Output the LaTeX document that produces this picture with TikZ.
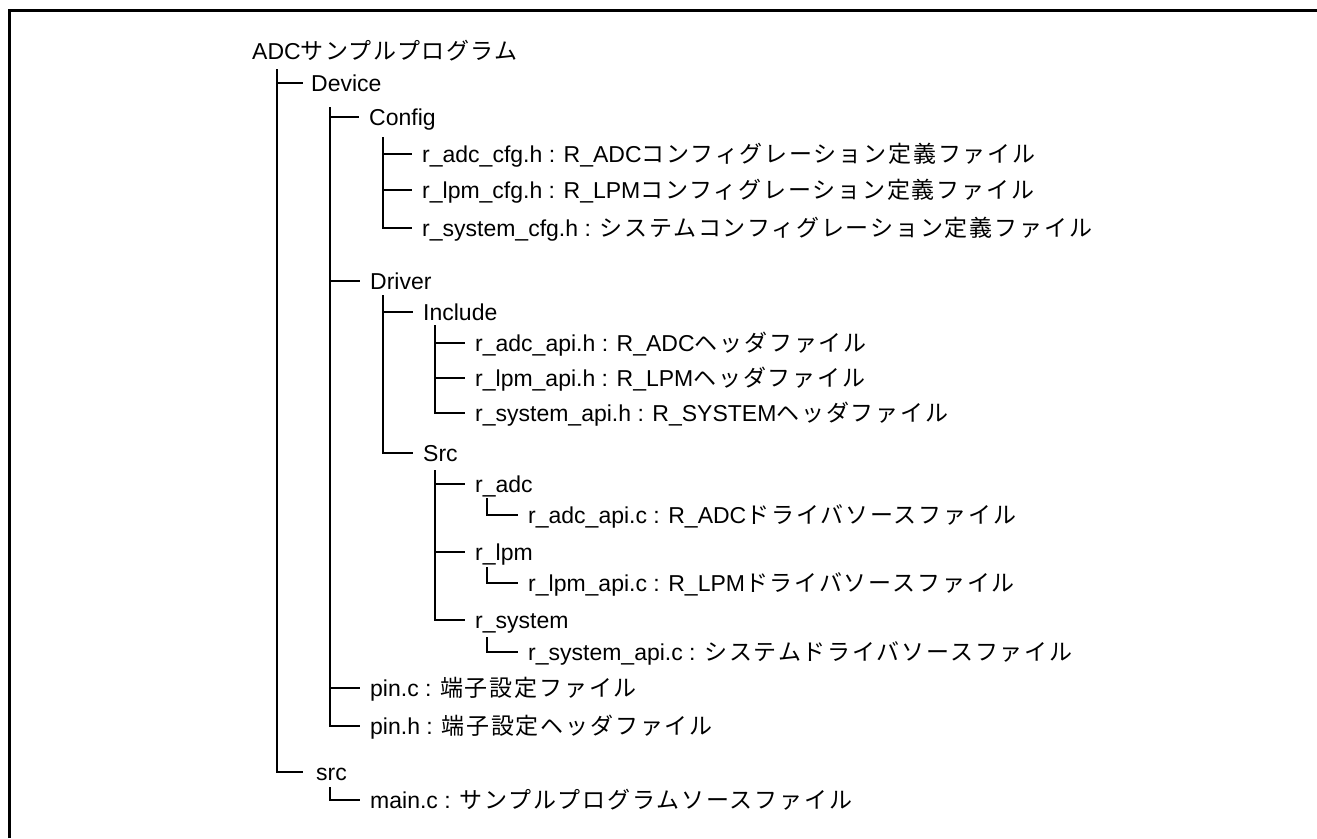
\documentclass[tikz,border=0pt]{standalone}
\usepackage{fontspec}
\setmainfont{Liberation Sans}
\newfontfamily\jp{Noto Sans CJK JP}[LetterSpace=8]
\newfontfamily\jproot{Noto Sans CJK JP}[LetterSpace=6]

\tikzset{
  entry/.style={anchor=west, inner xsep=10pt, inner ysep=0pt,
    text height=16pt, text depth=0pt, font=\fontsize{23}{27}\selectfont},
  branch/.style={line width=1.8pt}
}

\begin{document}
\begin{tikzpicture}[x=1pt, y=-1pt]
        \useasboundingbox (0,0) rectangle (1317,838);

        % Frame (only top and left edges show)
        \draw[line width=3pt] (9,838) -- (9,10) -- (1317,10);

        % Folder and file entries
        \node[entry, inner xsep=0pt] (root) at (252,51) {ADC{\jproot サンプルプログラム}};
        \node[entry, inner xsep=8pt] (dev) at (303,83) {Device};
        \node[entry] (cfg) at (359,117) {Config};
        \node[entry] (adccfg) at (412,154) {r\_adc\_cfg.h : R\_ADC{\jp コンフィグレーション定義ファイル}};
        \node[entry] (lpmcfg) at (412,190) {r\_lpm\_cfg.h : R\_LPM{\jp コンフィグレーション定義ファイル}};
        \node[entry] (syscfg) at (412,228) {r\_system\_cfg.h : {\jp システムコンフィグレーション定義ファイル}};
        \node[entry] (drv) at (360,281) {Driver};
        \node[entry] (inc) at (413,312) {Include};
        \node[entry] (adcapih) at (465,343) {r\_adc\_api.h : R\_ADC{\jp ヘッダファイル}};
        \node[entry] (lpmapih) at (465,378) {r\_lpm\_api.h : R\_LPM{\jp ヘッダファイル}};
        \node[entry] (sysapih) at (465,413) {r\_system\_api.h : R\_SYSTEM{\jp ヘッダファイル}};
        \node[entry] (drvsrc) at (413,453) {Src};
        \node[entry] (radc) at (465,484) {r\_adc};
        \node[entry] (adcapic) at (518,515) {r\_adc\_api.c : R\_ADC{\jp ドライバソースファイル}};
        \node[entry] (rlpm) at (465,552) {r\_lpm};
        \node[entry] (lpmapic) at (518,583) {r\_lpm\_api.c : R\_LPM{\jp ドライバソースファイル}};
        \node[entry] (rsys) at (465,620) {r\_system};
        \node[entry] (sysapic) at (518,652) {r\_system\_api.c : {\jp システムドライバソースファイル}};
        \node[entry] (pinc) at (360,688) {pin.c : {\jp 端子設定ファイル}};
        \node[entry] (pinh) at (360,726) {pin.h : {\jp 端子設定ヘッダファイル}};
        \node[entry, inner xsep=13pt] (src) at (303,772) {src};
        \node[entry] (mainc) at (360,800) {main.c : {\jp サンプルプログラムソースファイル}};

        % Tops of the tree trunks
        \coordinate (t-root) at (277,69);
        \coordinate (t-dev) at (330,107);
        \coordinate (t-cfg) at (383,137);
        \coordinate (t-drv) at (383,295);
        \coordinate (t-inc) at (435,325);
        \coordinate (t-drvsrc) at (435,470);
        \coordinate (t-radc) at (487,498);
        \coordinate (t-rlpm) at (487,567);
        \coordinate (t-rsys) at (487,637);
        \coordinate (t-src) at (330,787);

        % Draw the tree lines
        \draw[branch] (t-root) |- (dev.west);
        \draw[branch] (t-root) |- (src.west);
        \draw[branch] (t-dev) |- (cfg.west);
        \draw[branch] (t-dev) |- (drv.west);
        \draw[branch] (t-dev) |- (pinc.west);
        \draw[branch] (t-dev) |- (pinh.west);
        \draw[branch] (t-cfg) |- (adccfg.west);
        \draw[branch] (t-cfg) |- (lpmcfg.west);
        \draw[branch] (t-cfg) |- (syscfg.west);
        \draw[branch] (t-drv) |- (inc.west);
        \draw[branch] (t-drv) |- (drvsrc.west);
        \draw[branch] (t-inc) |- (adcapih.west);
        \draw[branch] (t-inc) |- (lpmapih.west);
        \draw[branch] (t-inc) |- (sysapih.west);
        \draw[branch] (t-drvsrc) |- (radc.west);
        \draw[branch] (t-drvsrc) |- (rlpm.west);
        \draw[branch] (t-drvsrc) |- (rsys.west);
        \draw[branch] (t-radc) |- (adcapic.west);
        \draw[branch] (t-rlpm) |- (lpmapic.west);
        \draw[branch] (t-rsys) |- (sysapic.west);
        \draw[branch] (t-src) |- (mainc.west);
\end{tikzpicture}
\end{document}
